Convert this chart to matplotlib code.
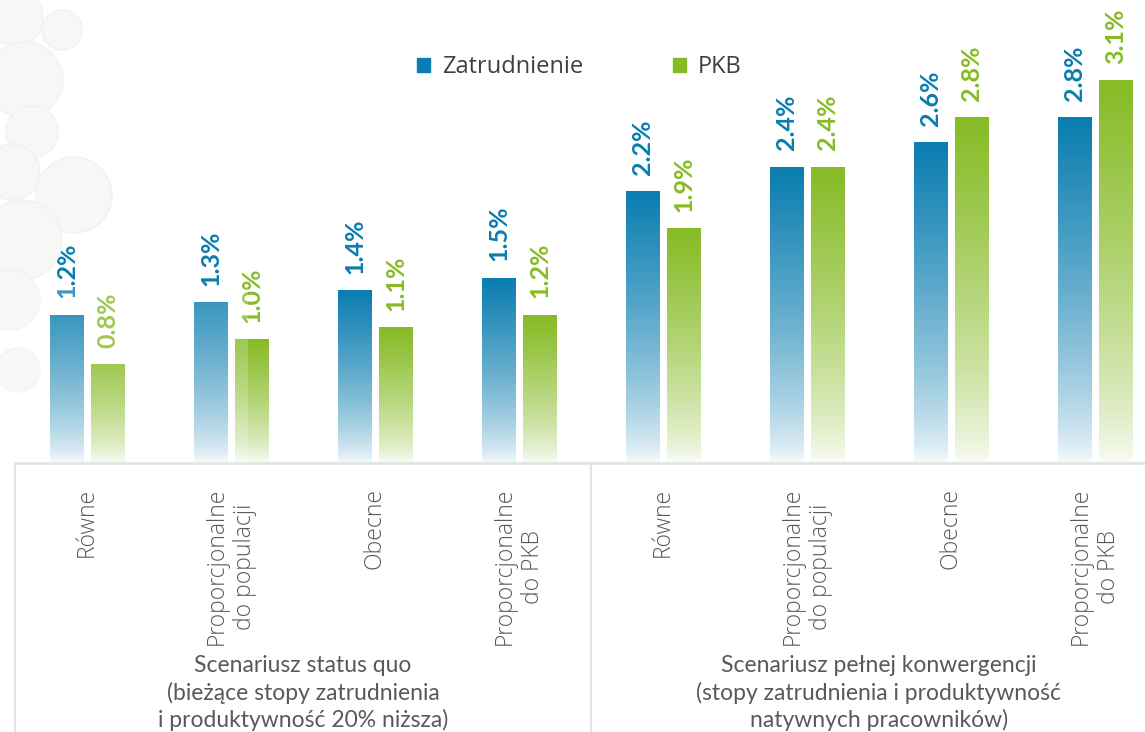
import matplotlib
matplotlib.use("Agg")
import matplotlib.pyplot as plt
import matplotlib.colors as mcolors
from matplotlib.patches import Patch, Circle, Rectangle
import numpy as np

# data
categories = ["Równe", "Proporcjonalne\ndo populacji", "Obecne", "Proporcjonalne\ndo PKB",
              "Równe", "Proporcjonalne\ndo populacji", "Obecne", "Proporcjonalne\ndo PKB"]
zatrudnienie = [1.2, 1.3, 1.4, 1.5, 2.2, 2.4, 2.6, 2.8]
pkb = [0.8, 1.0, 1.1, 1.2, 1.9, 2.4, 2.8, 3.1]
groups = ["Scenariusz status quo\n(bieżące stopy zatrudnienia\ni produktywność 20% niższa)",
          "Scenariusz pełnej konwergencji\n(stopy zatrudnienia i produktywność\nnatywnych pracowników)"]
series_names = ["Zatrudnienie", "PKB"]

BLUE = "#0a7db0"
GREEN = "#86bb25"
GRID = "#e3e3e3"
TXT = "#595959"

W, H = 1145, 732
fig = plt.figure(figsize=(W / 100, H / 100), dpi=100)
fig.patch.set_facecolor("white")


def fx(px):
    return px / W


def fy(py):
    return 1 - py / H


# faint bubbles in the top-left corner (decoration)
bubbles = [(15, 18, 28), (62, 30, 20), (25, 80, 38), (32, 132, 26), (12, 172, 28),
           (74, 195, 38), (22, 240, 40), (10, 300, 30), (18, 370, 22)]
for bx, by, br in bubbles:
    c = Circle((bx, H - by), br, transform=None, fc="#f7f7f7", ec="#f1f1f1", lw=1.0, zorder=0)
    fig.patches.append(c)

ax = fig.add_axes([fx(15), fy(463), fx(1130), 463 / H])
ax.set_facecolor("none")

x = np.arange(len(categories))
off, bw = 0.142, 0.23
b1 = ax.bar(x - off, zatrudnienie, bw, color=BLUE)
b2 = ax.bar(x + off, pkb, bw, color=GREEN)


def gradient_fill(patch, color):
    rgb = np.array(mcolors.to_rgb(color))
    t = np.linspace(0, 1, 256) ** 0.7
    img = 1 - (1 - rgb)[None, None, :] * (0.02 + 0.98 * t)[:, None, None]
    x0, w, h = patch.get_x(), patch.get_width(), patch.get_height()
    ax.imshow(img, extent=(x0, x0 + w, 0, h), origin="lower", aspect="auto",
              interpolation="bilinear", zorder=2)
    patch.set_visible(False)


for bars, vals, col in [(b1, zatrudnienie, BLUE), (b2, pkb, GREEN)]:
    for p, v in zip(bars, vals):
        gradient_fill(p, col)
        ax.annotate(f"{v:.1f}%", (p.get_x() + p.get_width() / 2, v), xytext=(0, 12),
                    textcoords="offset points", rotation=90, ha="center", va="bottom",
                    fontsize=18, fontweight="bold", color=col, family="Lato")

ax.set_xlim(-0.5, -0.5 + 1130 / 144)
ax.set_ylim(0, 463 / 123.3)
ax.set_yticks([])
for s in ["top", "right", "left"]:
    ax.spines[s].set_visible(False)
ax.spines["bottom"].set_color(GRID)
ax.spines["bottom"].set_linewidth(2)

ax.set_xticks(x)
ax.set_xticklabels(categories, rotation=90, ha="center", va="top", multialignment="center",
                   fontsize=16.5, fontweight="light", color=TXT, family="Open Sans",
                   linespacing=1.2)
ax.tick_params(axis="x", length=0, pad=18)

# group separators and group captions
trans = ax.get_xaxis_transform()
for sx in [-0.5, 3.5, 7.5]:
    ax.plot([sx, sx], [0, -1], color=GRID, lw=1.5, transform=trans, clip_on=False)
for gi, g in enumerate(groups):
    ax.text(gi * 4 + 1.5, (463 - 693) / 463, g, transform=trans, ha="center", va="center",
            multialignment="center", fontsize=16.5, color=TXT, family="Lato", linespacing=1.3)

# light overlay from the background image on the first bars
fig.patches.append(Rectangle((0, H - 463), 248, 175, transform=None, fc="white",
                             alpha=0.2, ec="none", zorder=5))

handles = [Patch(color=BLUE), Patch(color=GREEN)]
fig.legend(handles, series_names, loc="center", bbox_to_anchor=(fx(579), fy(67)), ncol=2,
           frameon=False, handlelength=0.55, handleheight=0.55, handletextpad=0.5,
           columnspacing=3.8, prop={"family": "Open Sans", "size": 17}, labelcolor="#404040")

fig.savefig("out.png", dpi=100)
